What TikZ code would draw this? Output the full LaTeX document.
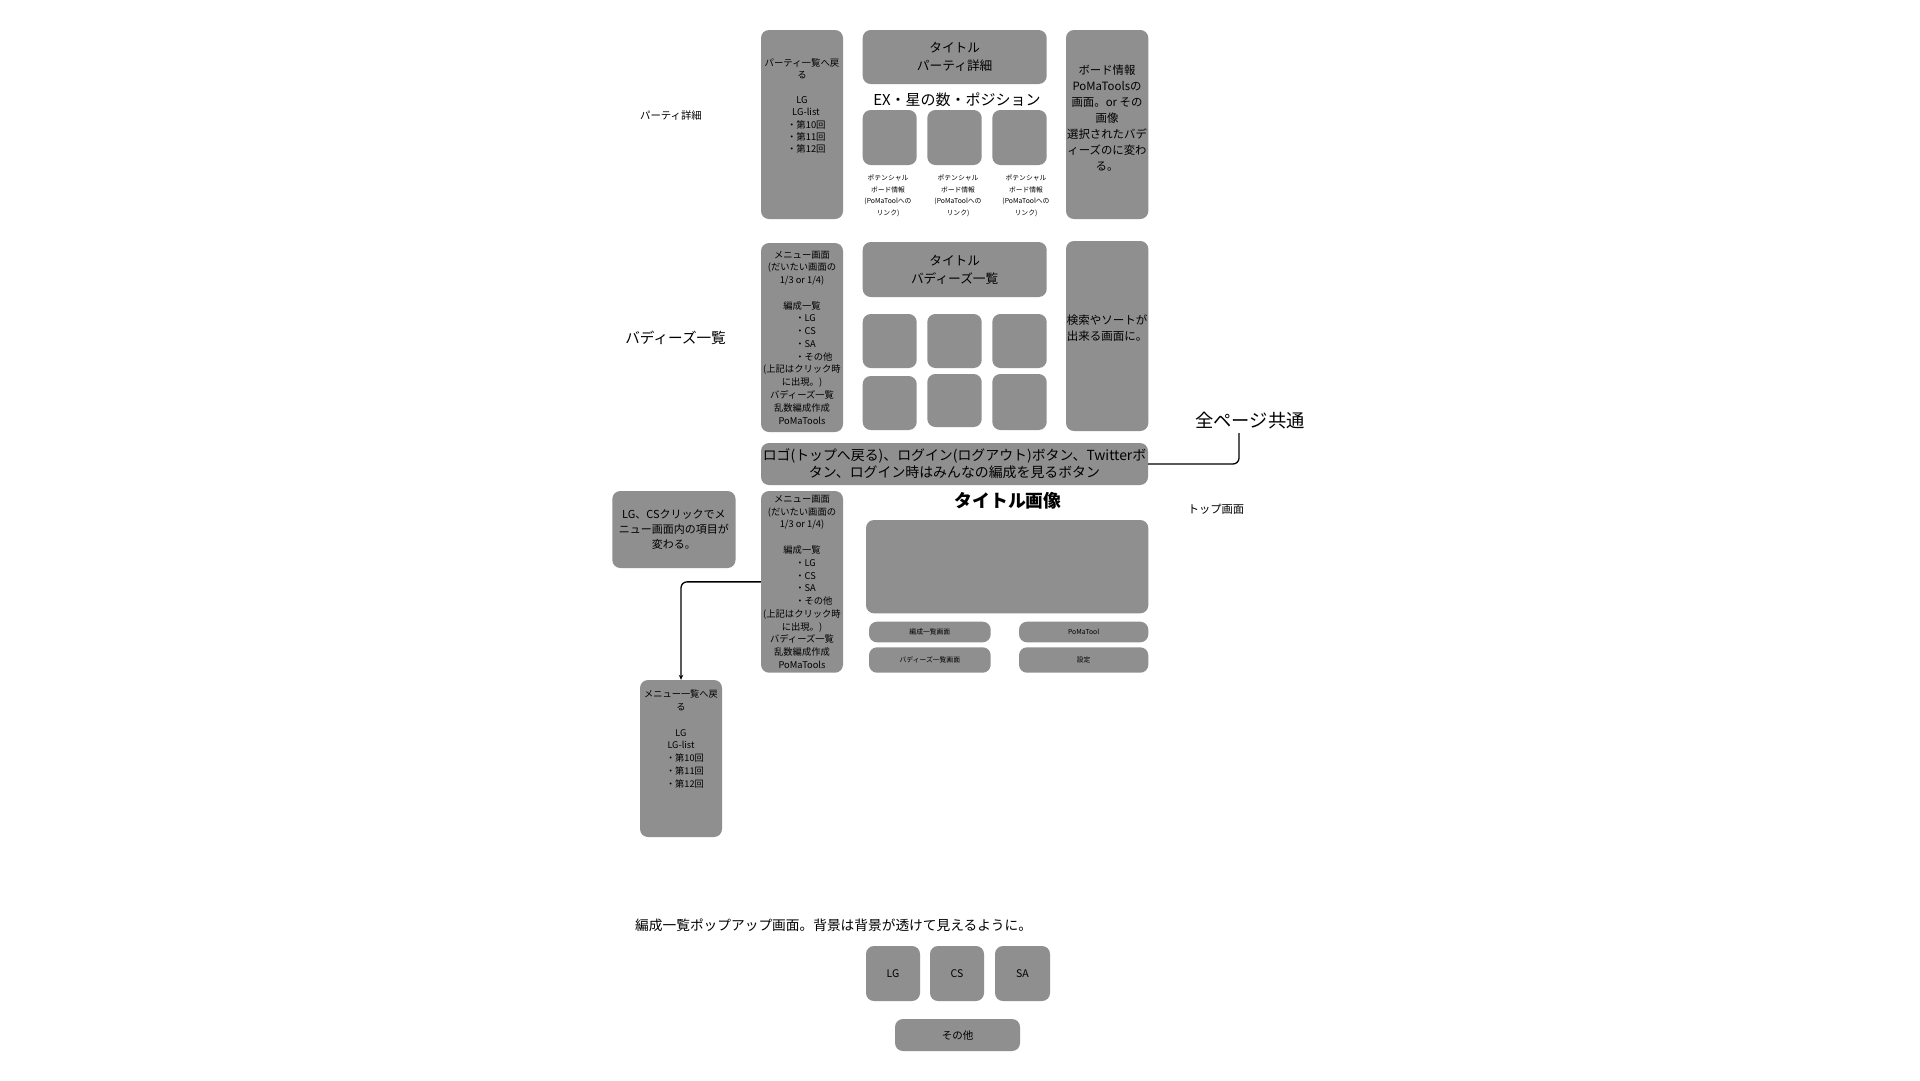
\documentclass[tikz,border=0pt]{standalone}
\usepackage{fontspec}
\setmainfont{Noto Sans CJK JP}
\usetikzlibrary{arrows.meta}
\definecolor{boxgray}{HTML}{8F8F8F}
\newcommand\myfs[2]{\fontsize{#1pt}{#2pt}\selectfont}
\newcommand\bul[2]{\makebox[#1pt][l]{・#2}}
\begin{document}
\begin{tikzpicture}[x=1pt,y=-1pt,
  box/.style={fill=boxgray, rounded corners=8pt, inner sep=0pt, align=center, text=black},
  lbl/.style={inner sep=0pt, align=center, text=black},
  menutxt/.style={font=\myfs{9.3}{12.77}},
  conn/.style={draw=black, line width=1.3pt, rounded corners=6pt}]
\fill[white] (0,0) rectangle (1920,1080);
\path[use as bounding box] (0,0) rectangle (1920,1080);

% ---------- party detail ----------
\node[lbl, font=\myfs{10.4}{13}] (partylbl) at (671,116) {パーティ詳細};
\node[box, minimum width=82pt, minimum height=189pt] (pmenu) at (802,124.5) {};
\node[lbl, anchor=north, font=\myfs{9.4}{12.4}] (pmenutxt) at (802,58)
  {パーティ一覧へ戻\\る\\[12.4pt]LG\\\hspace*{8pt}LG-list\\\bul{30}{第10回}\\\bul{30}{第11回}\\\bul{30}{第12回}};
\node[box, minimum width=184pt, minimum height=54pt, font=\myfs{12.7}{18.3}] (ptitle) at (954.7,57) {タイトル\\パーティ詳細};
\node[lbl, font=\myfs{15}{18}] (exlbl) at (957,100) {EX・星の数・ポジション};
\node[box, minimum width=54pt, minimum height=55pt] (sq1) at (889.7,137.5) {};
\node[box, minimum width=54.4pt, minimum height=55pt] (sq2) at (954.5,137.5) {};
\node[box, minimum width=54.4pt, minimum height=55pt] (sq3) at (1019.5,137.5) {};
\node[lbl, font=\myfs{6.8}{11.5}] (pot1) at (888,196) {ポテンシャル\\ボード情報\\(PoMaToolへの\\リンク)};
\node[lbl, font=\myfs{6.8}{11.5}] (pot2) at (958,196) {ポテンシャル\\ボード情報\\(PoMaToolへの\\リンク)};
\node[lbl, font=\myfs{6.8}{11.5}] (pot3) at (1026,196) {ポテンシャル\\ボード情報\\(PoMaToolへの\\リンク)};
\node[box, minimum width=82.3pt, minimum height=189pt] (pboard) at (1107.15,124.5) {};
\node[lbl, font=\myfs{11.4}{15.9}] (pboardtxt) at (1107,118)
  {ボード情報\\PoMaToolsの\\画面。or その\\画像\\選択されたバデ\\ィーズのに変わ\\る。};

% ---------- buddies list ----------
\node[lbl, font=\myfs{14.6}{17}] (buddylbl) at (675.6,338.3) {バディーズ一覧};
\node[box, menutxt, minimum width=82pt, minimum height=189pt] (bmenu) at (802,337.5)
  {メニュー画面\\(だいたい画面の\\1/3 or 1/4)\\[12.77pt]編成一覧\\\bul{13.4}{LG}\\\bul{13.4}{CS}\\\bul{13.4}{SA}\\\bul{13.4}{その他}\\(上記はクリック時\\に出現。)\\バディーズ一覧\\乱数編成作成\\PoMaTools};
\node[box, minimum width=184pt, minimum height=55pt, font=\myfs{12.7}{18.3}] (btitle) at (954.7,269.5) {タイトル\\バディーズ一覧};
\node[box, minimum width=54pt, minimum height=54pt] (g1) at (889.7,341) {};
\node[box, minimum width=54.4pt, minimum height=54pt] (g2) at (954.5,341) {};
\node[box, minimum width=54.4pt, minimum height=54pt] (g3) at (1019.5,341) {};
\node[box, minimum width=54pt, minimum height=54pt] (g4) at (889.7,403) {};
\node[box, minimum width=54.4pt, minimum height=53pt] (g5) at (954.5,400.5) {};
\node[box, minimum width=54.4pt, minimum height=56pt] (g6) at (1019.5,402) {};
\node[box, minimum width=82.3pt, minimum height=190pt] (bsearch) at (1107.15,336) {};
\node[lbl, font=\myfs{11.5}{16}] (bsearchtxt) at (1107,328) {検索やソートが\\出来る画面に。};

% ---------- common header ----------
\node[box, minimum width=387pt, minimum height=42pt, font=\myfs{13.9}{17.2}] (bar) at (954.5,464)
  {ロゴ(トップへ戻る)、ログイン(ログアウト)ボタン、Twitterボ\\タン、ログイン時はみんなの編成を見るボタン};
\node[lbl, font=\myfs{18.3}{21}] (allpages) at (1250,421) {全ページ共通};
\coordinate (allc) at (1239,433);
\draw[conn] (bar.east) -| (allc);
\node[lbl, font=\myfs{11.3}{13}] (toplbl) at (1216,509) {トップ画面};

% ---------- top page ----------
\node[box, minimum width=123.2pt, minimum height=77pt, font=\myfs{11}{14.6}] (note) at (673.9,529.5)
  {LG、CSクリックでメ\\ニュー画面内の項目が\\変わる。};
\node[box, menutxt, minimum width=82pt, minimum height=181.7pt] (tmenu) at (802,581.85)
  {メニュー画面\\(だいたい画面の\\1/3 or 1/4)\\[12.77pt]編成一覧\\\bul{13.4}{LG}\\\bul{13.4}{CS}\\\bul{13.4}{SA}\\\bul{13.4}{その他}\\(上記はクリック時\\に出現。)\\バディーズ一覧\\乱数編成作成\\PoMaTools};
\node[lbl, font=\myfs{17.8}{20}\bfseries] (titleimg) at (1008,500.7) {タイトル画像};
\node[box, minimum width=282.3pt, minimum height=93.3pt] (img) at (1007.15,566.65) {};
\node[box, minimum width=121.7pt, minimum height=20.6pt, font=\myfs{6.8}{8}] (btn1) at (929.85,632) {編成一覧画面};
\node[box, minimum width=129.3pt, minimum height=20.6pt, font=\myfs{6.8}{8}] (btn2) at (1083.65,632) {PoMaTool};
\node[box, minimum width=121.7pt, minimum height=25.4pt, font=\myfs{6.8}{8}] (btn3) at (929.85,660) {バディーズ一覧画面};
\node[box, minimum width=129.3pt, minimum height=25.4pt, font=\myfs{6.8}{8}] (btn4) at (1083.65,660) {設定};

\node[box, minimum width=82pt, minimum height=157pt] (back) at (681,758.5) {};
\node[lbl, anchor=north, font=\myfs{9.2}{12.8}] (backtxt) at (681,689.7)
  {メニュー一覧へ戻\\る\\[12.8pt]LG\\LG-list\\\bul{30}{第10回}\\\bul{30}{第11回}\\\bul{30}{第12回}};
\draw[conn, -{Stealth[length=5pt,width=4.5pt]}] (tmenu.west) -| (back.north);

% ---------- popup ----------
\node[lbl, anchor=west, font=\myfs{13.7}{16}] (poptxt) at (635,925) {編成一覧ポップアップ画面。背景は背景が透けて見えるように。};
\node[box, minimum width=54pt, minimum height=55pt, font=\myfs{10.5}{12}] (pLG) at (893,973.5) {LG};
\node[box, minimum width=54pt, minimum height=55pt, font=\myfs{10.5}{12}] (pCS) at (957,973.5) {CS};
\node[box, minimum width=55pt, minimum height=55pt, font=\myfs{10.5}{12}] (pSA) at (1022.5,973.5) {SA};
\node[box, minimum width=125pt, minimum height=32pt, font=\myfs{10.5}{12}] (pother) at (957.5,1035) {その他};
\end{tikzpicture}
\end{document}
